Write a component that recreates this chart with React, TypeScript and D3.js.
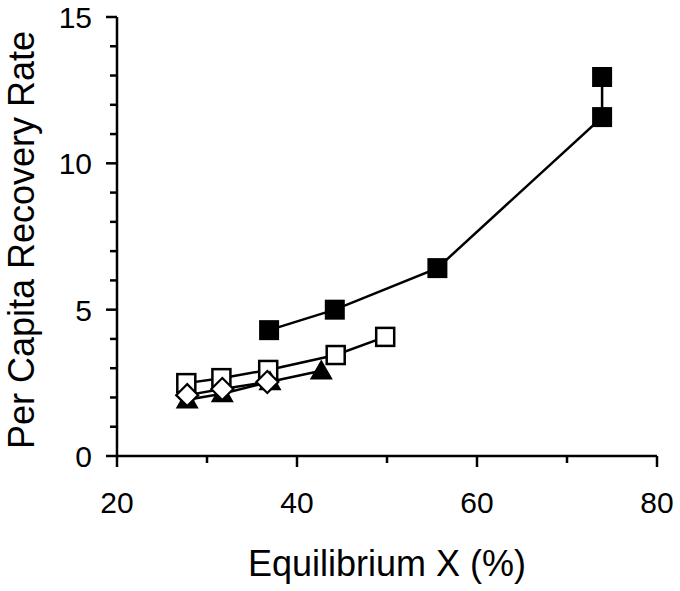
import React, { useRef, useEffect } from 'react';
import * as d3 from 'd3';

// filled squares
const filledX = [36.9, 44.2, 55.6, 73.9, 73.9];
const filledY = [4.3, 5.0, 6.42, 11.58, 12.95];
// open squares
const openX = [27.7, 31.6, 36.8, 44.3, 49.8];
const openY = [2.49, 2.66, 2.94, 3.45, 4.07];
// filled triangles
const triX = [27.8, 31.7, 37.0, 42.7];
const triY = [1.92, 2.13, 2.54, 2.91];
// open diamonds
const diaX = [27.8, 31.7, 36.7];
const diaY = [2.08, 2.29, 2.53];

const xMajor = [20, 40, 60, 80];
const xMinor = [30, 50, 70];
const yMajor = [0, 5, 10, 15];
const yMinor = [1, 2, 3, 4, 6, 7, 8, 9, 11, 12, 13, 14];

const W = 680;
const H = 591;

const App = () => {
    const svgRef = useRef<SVGSVGElement>(null);

    useEffect(() => {
        const root = d3.select(svgRef.current);
        root.selectAll('*').remove();

        const x = d3.scaleLinear().domain([20, 80]).range([117, 657]);
        const y = d3.scaleLinear().domain([0, 15]).range([456, 17]);
        const font = '"Liberation Sans", Arial, sans-serif';

        // axes
        const ax = root.append('g').attr('stroke', '#000').attr('stroke-width', 2.5).attr('fill', 'none');
        ax.append('line').attr('x1', x(20)).attr('x2', x(80)).attr('y1', y(0)).attr('y2', y(0));
        ax.append('line').attr('x1', x(20)).attr('x2', x(20)).attr('y1', y(0)).attr('y2', y(15));
        xMajor.forEach(v => ax.append('line').attr('x1', x(v)).attr('x2', x(v)).attr('y1', y(0)).attr('y2', y(0) + 11));
        xMinor.forEach(v => ax.append('line').attr('x1', x(v)).attr('x2', x(v)).attr('y1', y(0)).attr('y2', y(0) + 7));
        yMajor.forEach(v => ax.append('line').attr('x1', x(20) - 11).attr('x2', x(20)).attr('y1', y(v)).attr('y2', y(v)));
        yMinor.forEach(v => ax.append('line').attr('x1', x(20) - 7).attr('x2', x(20)).attr('y1', y(v)).attr('y2', y(v)));

        const labels = root.append('g').attr('font-family', font).attr('fill', '#000');
        labels.selectAll('text.xt').data(xMajor).enter().append('text')
            .attr('x', d => x(d)).attr('y', 513).attr('text-anchor', 'middle')
            .attr('font-size', 30).text(d => d);
        labels.selectAll('text.yt').data(yMajor).enter().append('text')
            .attr('x', 92).attr('y', d => y(d) + 11).attr('text-anchor', 'end')
            .attr('font-size', 30).text(d => d);
        labels.append('text').attr('x', 387).attr('y', 576).attr('text-anchor', 'middle')
            .attr('font-size', 36).text('Equilibrium X (%)');
        labels.append('text').attr('transform', `translate(34,240) rotate(-90)`).attr('text-anchor', 'middle')
            .attr('font-size', 36).text('Per Capita Recovery Rate');

        const line = d3.line<[number, number]>().x(d => x(d[0])).y(d => y(d[1]));
        const zip = (a: number[], b: number[]) => a.map((v, i) => [v, b[i]] as [number, number]);

        const drawLine = (pts: [number, number][]) =>
            root.append('path').datum(pts).attr('d', line).attr('fill', 'none')
                .attr('stroke', '#000').attr('stroke-width', 2.5);

        // open squares
        const openPts = zip(openX, openY);
        drawLine(openPts);
        root.selectAll('rect.open').data(openPts).enter().append('rect')
            .attr('x', d => x(d[0]) - 9).attr('y', d => y(d[1]) - 9)
            .attr('width', 18).attr('height', 18)
            .attr('fill', '#fff').attr('stroke', '#000').attr('stroke-width', 2.5);

        // triangles
        const triPts = zip(triX, triY);
        drawLine(triPts);
        const tri = d3.symbol().type(d3.symbolTriangle).size(230);
        root.selectAll('path.tri').data(triPts).enter().append('path')
            .attr('d', tri()).attr('transform', d => `translate(${x(d[0])},${y(d[1]) + 2})`)
            .attr('fill', '#000');

        // diamonds
        const diaPts = zip(diaX, diaY);
        drawLine(diaPts);
        root.selectAll('path.dia').data(diaPts).enter().append('path')
            .attr('d', 'M0,-11L11,0L0,11L-11,0Z')
            .attr('transform', d => `translate(${x(d[0])},${y(d[1])})`)
            .attr('fill', '#fff').attr('stroke', '#000').attr('stroke-width', 2.2);

        // filled squares
        const filledPts = zip(filledX, filledY);
        drawLine(filledPts.slice().sort((a, b) => a[0] - b[0] || a[1] - b[1]));
        root.selectAll('rect.filled').data(filledPts).enter().append('rect')
            .attr('x', d => x(d[0]) - 10).attr('y', d => y(d[1]) - 10)
            .attr('width', 20).attr('height', 20).attr('fill', '#000');
    }, []);

    return (
        <svg ref={svgRef} width={W} height={H}
            style={{ position: 'absolute', left: 0, top: 0, background: '#fff' }} />
    );
};

export default App;
